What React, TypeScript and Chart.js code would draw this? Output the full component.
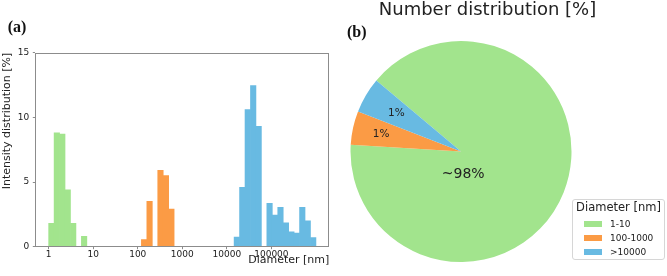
import React, { useEffect, useRef } from 'react';
import { Chart, registerables } from 'chart.js';

Chart.register(...registerables);

// ---------- colours ----------
const GREEN = '#a2e48d';
const ORANGE = '#fb9b45';
const BLUE = '#68bae2';
const TEXT = '#222222';
const FRAME = '#8c8c8c';
const FONT = '"DejaVu Sans", sans-serif';

// ---------- histogram data (log-spaced bins from 1 nm to 1e6 nm) ----------
const BIN_COUNT = 49;
const LOG_MIN = 0; // 10^0 = 1 nm
const LOG_MAX = 6; // 10^6 nm
const xTickExponents = [0, 1, 2, 3, 4, 5];
const xTickLabels = ['1', '10', '100', '1000', '10000', '100000'];
const yTicks = [0, 5, 10, 15];

const smallStartBin = 0;
const smallHeights = [1.8, 8.8, 8.7, 4.4, 1.8, 0, 0.8];
const midStartBin = 17;
const midHeights = [0.55, 3.5, 0, 5.9, 5.5, 2.9];
const largeStartBin = 34;
const largeHeights = [0.75, 4.6, 10.6, 12.45, 9.3, 0, 3.35, 2.45, 3.05, 1.85, 1.15, 1.05, 3.05, 2.0, 0.7];

// ---------- pie data ----------
const pieCategories = ['1-10', '100-1000', '>10000'];
const pieValues = [89.85, 4.95, 5.2];
const pieLabels = ['~98%', '1%', '1%'];
const pieColors = [GREEN, ORANGE, BLUE];

const pieLabelPlacement = [
  { dx: 0.02, dy: 0.21, size: 14 },
  { radial: 0.74, size: 10.5 },
  { radial: 0.68, size: 10.5 },
];

const framePlugin = {
  id: 'frame',
  afterDatasetsDraw(chart: any) {
    const { ctx, chartArea } = chart;
    const l = Math.round(chartArea.left) + 0.5;
    const t = Math.round(chartArea.top) + 0.5;
    const r = Math.round(chartArea.right) - 0.5;
    const b = Math.round(chartArea.bottom) - 0.5;
    ctx.save();
    ctx.strokeStyle = FRAME;
    ctx.lineWidth = 1;
    ctx.strokeRect(l, t, r - l, b - t);
    ctx.restore();
  },
};

const pieLabelPlugin = {
  id: 'pieLabels',
  afterDatasetsDraw(chart: any) {
    const ctx = chart.ctx;
    const arcs = chart.getDatasetMeta(0).data;
    arcs.forEach((arc: any, i: number) => {
      const p = arc.getProps(['x', 'y', 'startAngle', 'endAngle', 'outerRadius'], true);
      const place: any = pieLabelPlacement[i];
      let lx: number;
      let ly: number;
      if (place.radial !== undefined) {
        const mid = (p.startAngle + p.endAngle) / 2;
        lx = p.x + Math.cos(mid) * p.outerRadius * place.radial;
        ly = p.y + Math.sin(mid) * p.outerRadius * place.radial;
      } else {
        lx = p.x + place.dx * p.outerRadius;
        ly = p.y + place.dy * p.outerRadius;
      }
      ctx.save();
      ctx.font = `${place.size}px ${FONT}`;
      ctx.fillStyle = TEXT;
      ctx.textAlign = 'center';
      ctx.textBaseline = 'middle';
      ctx.fillText(pieLabels[i], lx, ly);
      ctx.restore();
    });
  },
};

export default function App() {
  const histRef = useRef<HTMLCanvasElement>(null);
  const pieRef = useRef<HTMLCanvasElement>(null);

  useEffect(() => {
    const binWidth = (LOG_MAX - LOG_MIN) / BIN_COUNT;
    const toPoints = (start: number, heights: number[]) =>
      heights.map((h, i) => ({ x: LOG_MIN + (start + i + 0.5) * binWidth, y: h }));

    const barDs = (label: string, data: any[], color: string) => ({
      label,
      data,
      backgroundColor: color,
      borderWidth: 0,
      grouped: false,
      barPercentage: 1,
      categoryPercentage: 1,
    });

    const hist = new Chart(histRef.current as HTMLCanvasElement, {
      type: 'bar',
      data: {
        datasets: [
          barDs('1-10', toPoints(smallStartBin, smallHeights), GREEN),
          barDs('100-1000', toPoints(midStartBin, midHeights), ORANGE),
          barDs('>10000', toPoints(largeStartBin, largeHeights), BLUE),
        ] as any,
      },
      options: {
        animation: false,
        responsive: false,
        maintainAspectRatio: false,
        layout: { padding: { top: 52.7, right: 10.7, left: 0, bottom: 0 } },
        plugins: { legend: { display: false }, tooltip: { enabled: false } },
        scales: {
          x: {
            type: 'linear',
            offset: false,
            min: LOG_MIN - 0.05 * (LOG_MAX - LOG_MIN),
            max: LOG_MAX + 0.05 * (LOG_MAX - LOG_MIN),
            afterBuildTicks: (scale: any) => {
              scale.ticks = xTickExponents.map((v) => ({ value: v }));
            },
            afterFit: (scale: any) => {
              scale.height = 29.3;
            },
            ticks: {
              autoSkip: false,
              maxRotation: 0,
              padding: 0,
              color: TEXT,
              font: { family: FONT, size: 9 },
              callback: (value: any) => {
                const idx = xTickExponents.indexOf(Number(value));
                return idx >= 0 ? xTickLabels[idx] : '';
              },
            },
            grid: { offset: false, drawOnChartArea: false, drawTicks: true, tickLength: 2.5, color: FRAME },
            border: { display: false },
            title: {
              display: true,
              text: 'Diameter [nm]',
              align: 'end',
              color: TEXT,
              font: { family: FONT, size: 11 },
              padding: { top: 0, bottom: 8.9 },
            },
          },
          y: {
            type: 'linear',
            min: yTicks[0],
            max: yTicks[yTicks.length - 1],
            afterBuildTicks: (scale: any) => {
              scale.ticks = yTicks.map((v) => ({ value: v }));
            },
            afterFit: (scale: any) => {
              scale.width = 35.3;
            },
            ticks: {
              padding: 3.5,
              color: TEXT,
              font: { family: FONT, size: 9 },
            },
            grid: { drawOnChartArea: false, drawTicks: true, tickLength: 2.5, color: FRAME },
            border: { display: false },
            title: {
              display: true,
              text: 'Intensity distribution [%]',
              align: 'end',
              color: TEXT,
              font: { family: FONT, size: 11 },
              padding: { top: 1, bottom: 0 },
            },
          },
        },
      } as any,
      plugins: [framePlugin],
    });

    const pie = new Chart(pieRef.current as HTMLCanvasElement, {
      type: 'pie',
      data: {
        labels: pieCategories,
        datasets: [
          {
            data: pieValues,
            backgroundColor: pieColors,
            borderWidth: 0,
          },
        ],
      },
      options: {
        animation: false,
        responsive: false,
        maintainAspectRatio: false,
        rotation: -50,
        layout: { padding: { left: 10.5, right: 95.5, top: 41, bottom: 14 } },
        plugins: { legend: { display: false }, tooltip: { enabled: false } },
      } as any,
      plugins: [pieLabelPlugin],
    });

    return () => {
      hist.destroy();
      pie.destroy();
    };
  }, []);

  const centered = (x: number, y: number): React.CSSProperties => ({
    position: 'absolute',
    left: x,
    top: y,
    transform: 'translate(-50%, -50%)',
    lineHeight: 1,
    whiteSpace: 'nowrap',
  });

  return (
    <div style={{ position: 'absolute', left: 0, top: 0, width: 667, height: 276, background: '#fff', overflow: 'hidden' }}>
      <canvas ref={histRef} width={340} height={276} style={{ position: 'absolute', left: 0, top: 0 }} />
      <canvas ref={pieRef} width={327} height={276} style={{ position: 'absolute', left: 340, top: 0 }} />
      <div style={{ ...centered(17, 27.3), fontFamily: '"Liberation Serif", serif', fontWeight: 700, fontSize: 16, color: '#111' }}>(a)</div>
      <div style={{ ...centered(356.7, 32.2), fontFamily: '"Liberation Serif", serif', fontWeight: 700, fontSize: 16, color: '#111' }}>(b)</div>
      <div style={{ ...centered(487.5, 8.8), fontFamily: FONT, fontSize: 18, color: TEXT }}>Number distribution [%]</div>
      <div
        style={{
          position: 'absolute',
          left: 571.5,
          top: 199.3,
          width: 93.5,
          height: 61,
          boxSizing: 'border-box',
          border: '1px solid #d6d6d6',
          borderRadius: 3,
          background: '#fff',
          fontFamily: FONT,
          color: TEXT,
        }}
      >
        <div style={{ ...centered(46, 8.2), fontSize: 11.5 }}>Diameter [nm]</div>
        {pieCategories.map((c, i) => (
          <React.Fragment key={c}>
            <div
              style={{
                position: 'absolute',
                left: 11.5,
                top: 20.3 + i * 14.2,
                width: 18.4,
                height: 6.4,
                background: pieColors[i],
              }}
            />
            <div style={{ position: 'absolute', left: 37.5, top: 23.4 + i * 14.2, transform: 'translateY(-50%)', fontSize: 9, lineHeight: 1, whiteSpace: 'nowrap' }}>
              {c}
            </div>
          </React.Fragment>
        ))}
      </div>
    </div>
  );
}
